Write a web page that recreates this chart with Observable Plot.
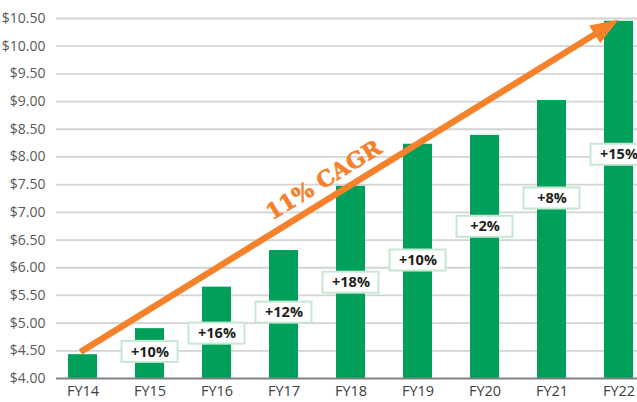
<!DOCTYPE html>
<html>
<head>
<meta charset="utf-8">
<script src="https://cdn.jsdelivr.net/npm/d3@7"></script>
<script src="https://cdn.jsdelivr.net/npm/@observablehq/plot@0.6"></script>
<style>
  html, body { margin: 0; padding: 0; background: #fff; }
  #chart svg { display: block; }
  g[aria-label^="y-axis"] text { font-size: 14px; fill: #595959; }
  g[aria-label^="x-axis"] text { font-size: 14.5px; fill: #404040; }
</style>
</head>
<body>
<div id="chart"></div>
<script>
// ---- data ----
const years = ["FY14", "FY15", "FY16", "FY17", "FY18", "FY19", "FY20", "FY21", "FY22"];
const values = [4.43, 4.90, 5.65, 6.31, 7.47, 8.23, 8.39, 9.02, 10.45];
const growth = [null, "+10%", "+16%", "+12%", "+18%", "+10%", "+2%", "+8%", "+15%"];
const growthLabelAt = [null, 4.48, 4.81, 5.19, 5.73, 6.13, 6.74, 7.25, 8.04];
const yTicks = [4, 4.5, 5, 5.5, 6, 6.5, 7, 7.5, 8, 8.5, 9, 9.5, 10, 10.5];
const cagrLabel = "11% CAGR";
const cagrFrom = ["FY14", 4.47];
const cagrTo = ["FY22", 10.47];

// ---- styles ----
const green = "#00a05a";
const orange = "#f5822a";

const bars = years.map((year, i) => ({year, value: values[i]}));
const labels = years.map((year, i) => ({year, text: growth[i], at: growthLabelAt[i]})).filter(d => d.text);
const fmt = d3.format("$.2f");
const boxHalf = 0.19;

function cagrArrow(index, scales) {
  const x = scales.x, y = scales.y;
  const half = x.bandwidth ? x.bandwidth() / 2 : 0;
  const x0 = x(cagrFrom[0]) + half - 2, y0 = y(cagrFrom[1]);
  const x1 = x(cagrTo[0]) + half, y1 = y(cagrTo[1]);
  const len = Math.hypot(x1 - x0, y1 - y0);
  const dx = (x1 - x0) / len, dy = (y1 - y0) / len;
  const nx = dy, ny = -dx; // normal pointing up-left
  const shaft = 3.2, headLen = 28, headHalf = 10.5;
  const bx = x1 - dx * headLen, by = y1 - dy * headLen;
  const pts = [
    [x0 + nx * shaft, y0 + ny * shaft],
    [bx + nx * shaft, by + ny * shaft],
    [bx + nx * headHalf, by + ny * headHalf],
    [x1, y1],
    [bx - nx * headHalf, by - ny * headHalf],
    [bx - nx * shaft, by - ny * shaft],
    [x0 - nx * shaft, y0 - ny * shaft]
  ];
  const g = d3.create("svg:g").attr("aria-label", "cagr");
  g.append("path")
    .attr("d", "M" + pts.map(p => p.join(",")).join("L") + "Z")
    .attr("fill", orange);
  const t = 0.47, off = 19;
  const tx = x0 + (x1 - x0) * t + nx * off;
  const ty = y0 + (y1 - y0) * t + ny * off;
  const angle = Math.atan2(y1 - y0, x1 - x0) * 180 / Math.PI;
  g.append("text")
    .attr("transform", `translate(${tx},${ty}) rotate(${angle})`)
    .attr("text-anchor", "middle")
    .attr("dy", "0.36em")
    .attr("fill", orange)
    .attr("stroke", orange)
    .attr("stroke-width", 0.6)
    .attr("font-family", "'DejaVu Serif', serif")
    .attr("font-weight", "bold")
    .attr("font-size", 22)
    .text(cagrLabel);
  return g.node();
}

const chart = Plot.plot({
  width: 637,
  height: 402,
  marginLeft: 56,
  marginRight: 0,
  marginTop: 18,
  marginBottom: 24,
  style: {fontFamily: "'Open Sans', sans-serif", fontSize: "14px", background: "#fff"},
  x: {domain: years, range: [27, 673], padding: 0.57, label: null, tickSize: 0, tickPadding: 7},
  y: {domain: [4, 10.5], ticks: yTicks, tickFormat: fmt, label: null, tickSize: 0, tickPadding: 11},
  marks: [
    Plot.ruleY(yTicks.filter(v => v > yTicks[0]), {stroke: "#d3d3d3", strokeWidth: 1.8}),
    Plot.barY(bars, {x: "year", y1: yTicks[0], y2: "value", fill: green}),
    Plot.ruleY([yTicks[0]], {stroke: "#808080", strokeWidth: 2}),
    Plot.rect(labels, {
      x: "year", y1: d => d.at - boxHalf, y2: d => d.at + boxHalf,
      insetLeft: -13.5, insetRight: -13.5,
      fill: "#fff", stroke: "#c6e7d3", strokeWidth: 2
    }),
    Plot.text(labels, {
      x: "year", y: "at", text: "text",
      fontWeight: "bold", fontSize: 14.5, fill: "#231f20",
      fontFamily: "'Open Sans', sans-serif"
    }),
    cagrArrow
  ]
});
document.getElementById("chart").appendChild(chart);
</script>
</body>
</html>
